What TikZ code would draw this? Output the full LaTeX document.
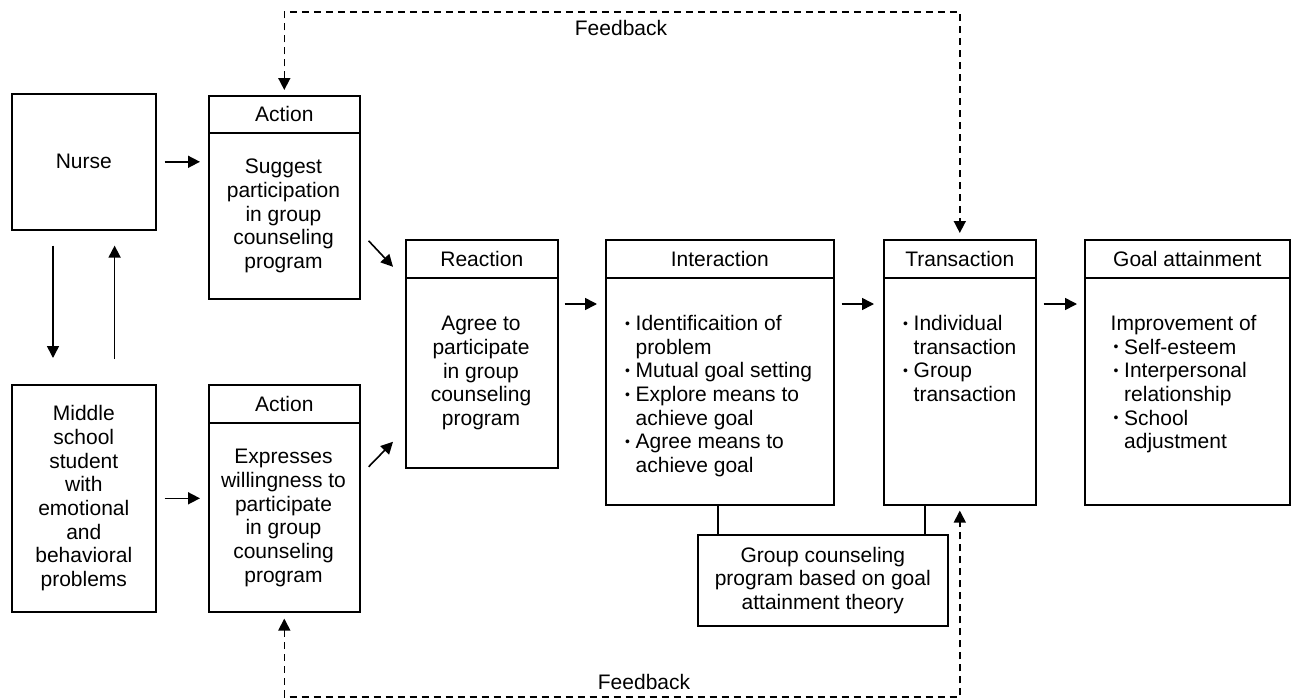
\documentclass[tikz,border=0pt]{standalone}
\usepackage{fontspec}
\setmainfont{Liberation Sans}
\usetikzlibrary{arrows.meta,calc}

% small raised bullet with a fixed hanging width, and the matching indent
\newcommand{\bdot}{\raisebox{2.4pt}{\fontsize{14pt}{14pt}\selectfont\textbullet}}
\newcommand{\bul}{\makebox[11pt][l]{\hspace{0.5pt}\bdot}}
\newcommand{\ind}{\hspace*{11pt}}

\begin{document}
\begin{tikzpicture}[x=1pt,y=-1pt,
  every node/.style={font=\fontsize{21pt}{23.7pt}\selectfont},
  box/.style={draw, line width=1.6pt, inner sep=0pt, anchor=north west, align=center},
  ctext/.style={inner sep=0pt, align=center, anchor=north},
  ltext/.style={inner sep=0pt, align=left, anchor=north west},
  arr/.style={-{Triangle[length=12pt,width=12pt]}, line width=1.6pt},
  link/.style={line width=1.6pt},
  fb/.style={{Triangle[length=12pt,width=12pt]}-{Triangle[length=12pt,width=12pt]},
             line width=1.6pt, dash pattern=on 7pt off 5pt}]

\useasboundingbox[fill=white] (0,0) rectangle (1293,699);

% participants
\node[box, minimum width=144pt, minimum height=136pt] (nurse) at (11,93) {Nurse};
\node[box, minimum width=144pt, minimum height=227pt] (mid) at (11,384)
  {Middle\\school\\student\\with\\emotional\\and\\behavioral\\problems};

% action (nurse)
\node[box, minimum width=151pt, minimum height=37pt] (act1h) at (208,95) {Action};
\node[box, minimum width=151pt, minimum height=166pt] (act1b) at (208,132) {};
\node[ctext] (act1t) at (283.5,159) {Suggest\\participation\\in group\\counseling\\program};

% action (student)
\node[box, minimum width=151pt, minimum height=38pt] (act2h) at (208,384) {Action};
\node[box, minimum width=151pt, minimum height=189pt] (act2b) at (208,422) {};
\node[ctext] (act2t) at (283.5,449) {Expresses\\willingness to\\participate\\in group\\counseling\\program};

% reaction
\node[box, minimum width=152pt, minimum height=38pt] (reacth) at (405,239) {Reaction};
\node[box, minimum width=152pt, minimum height=190pt] (reactb) at (405,277) {};
\node[ctext] (reactt) at (481,316) {Agree to\\participate\\in group\\counseling\\program};

% interaction
\node[box, minimum width=228pt, minimum height=38pt] (interh) at (605,239) {Interaction};
\node[box, minimum width=228pt, minimum height=227pt] (interb) at (605,277) {};
\node[ltext] (intert) at (624.5,315) {\bul Identificaition of\\\ind problem\\\bul Mutual goal setting\\\bul Explore means to\\\ind achieve goal\\\bul Agree means to\\\ind achieve goal};

% transaction
\node[box, minimum width=152pt, minimum height=38pt] (transh) at (883,239) {Transaction};
\node[box, minimum width=152pt, minimum height=227pt] (transb) at (883,277) {};
\node[ltext] (transt) at (902.5,315) {\bul Individual\\\ind transaction\\\bul Group\\\ind transaction};

% goal attainment
\node[box, minimum width=205pt, minimum height=38pt] (goalh) at (1084,239) {Goal attainment};
\node[box, minimum width=205pt, minimum height=227pt] (goalb) at (1084,277) {};
\node[ltext] (goalt) at (1110.5,315) {Improvement of\\\hspace*{2.5pt}\bul Self-esteem\\\hspace*{2.5pt}\bul Interpersonal\\\hspace*{2.5pt}\ind relationship\\\hspace*{2.5pt}\bul School\\\hspace*{2.5pt}\ind adjustment};

% program
\node[box, minimum width=250pt, minimum height=91pt] (gcp) at (697,534)
  {Group counseling\\program based on goal\\attainment theory};

% flow arrows
\draw[arr, shorten <=8pt, shorten >=8pt] (nurse.east) -- (nurse.east -| act1b.west);
\draw[arr, shorten <=8pt, shorten >=8pt] (mid.east) -- (mid.east -| act2b.west);
\draw[arr, shorten <=15pt, shorten >=26pt] ($(nurse.south west)+(42,0)$) -- ($(mid.north west)+(42,0)$);
\draw[arr, shorten <=25pt, shorten >=15pt] ($(mid.north east)+(-42,0)$) -- ($(nurse.south east)+(-42,0)$);
\draw[arr] ($(act1b.east)+(8,25)$) -- ($(reacth.west)+(-12,8)$);
\draw[arr] ($(act2b.east)+(8,-50.5)$) -- ($(reactb.west)+(-12,69)$);
\draw[arr, shorten <=6pt, shorten >=8pt] ($(reactb.north east)+(0,27)$) -- ($(interb.north west)+(0,27)$);
\draw[arr, shorten <=7pt, shorten >=9pt] ($(interb.north east)+(0,27)$) -- ($(transb.north west)+(0,27)$);
\draw[arr, shorten <=7pt, shorten >=7pt] ($(transb.north east)+(0,27)$) -- ($(goalb.north west)+(0,27)$);

% links to the program
\coordinate (ilink) at ($(interb.south west)+(113,0)$);
\coordinate (tlink) at ($(transb.south west)+(42,0)$);
\draw[link] (ilink) -- (ilink |- gcp.north);
\draw[link] (tlink) -- (tlink |- gcp.north);

% feedback loops
\coordinate (fbtop) at (621,12);
\coordinate (fbbot) at (644,697);
\draw[fb, shorten <=5pt, shorten >=6pt] (act1h.north) -- (act1h.north |- fbtop) -- (transh.north |- fbtop) -- (transh.north);
\draw[fb, shorten <=6pt, shorten >=5pt] (act2b.south) -- (act2b.south |- fbbot) -- (transb.south |- fbbot) -- (transb.south);
\node (fblab1) at (621,28) {Feedback};
\node (fblab2) at (644,682) {Feedback};

\end{tikzpicture}
\end{document}
